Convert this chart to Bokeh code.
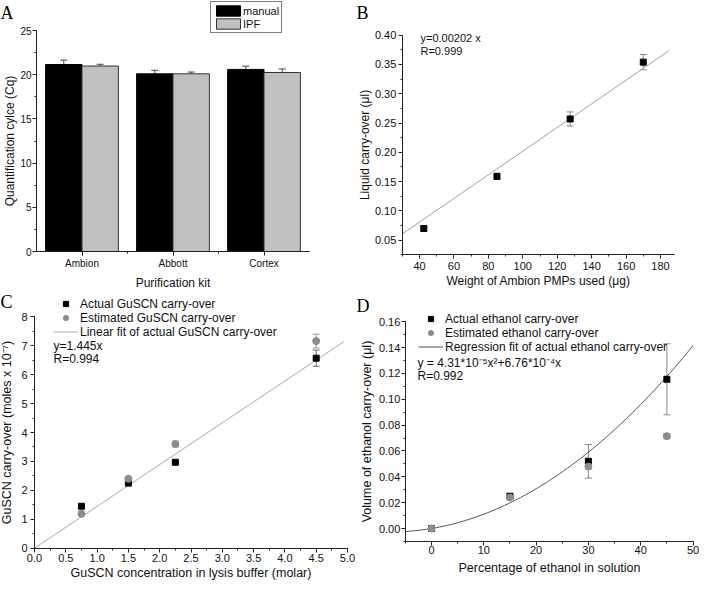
import numpy as np
from bokeh.plotting import figure
from bokeh.layouts import column, row
from bokeh.models import (ColumnDataSource, Whisker, TeeHead, Legend, LegendItem, Label,
                          SingleIntervalTicker, FixedTicker, PrintfTickFormatter, Range1d)
from bokeh.embed import file_html
from bokeh.resources import INLINE

FONT = "Liberation Sans"
SERIF = "Liberation Serif"

# ---------------- Panel A data ----------------
kits = ["Ambion", "Abbott", "Cortex"]
cq_manual = [21.15, 20.1, 20.6]
cq_manual_err = [0.5, 0.4, 0.37]
cq_ipf = [20.98, 20.1, 20.25]
cq_ipf_err = [0.2, 0.2, 0.4]

# ---------------- Panel B data ----------------
pmp_weight = [42.5, 85, 127.5, 170]
liquid_carry = [0.070, 0.159, 0.257, 0.354]
liquid_err = [0.004, 0.005, 0.012, 0.013]
b_slope = 0.00202
b_fit_x = [30, 185]

# ---------------- Panel C data ----------------
guscn_conc = [0.75, 1.5, 2.25, 4.5]
guscn_actual = [1.45, 2.25, 2.97, 6.57]
guscn_actual_err = [0.03, 0.03, 0.03, 0.28]
guscn_est = [1.19, 2.40, 3.60, 7.16]
guscn_est_err = [0.05, 0.05, 0.10, 0.24]
c_slope = 1.445
c_fit_x = [0, 4.95]

# ---------------- Panel D data ----------------
ethanol_pct = [0, 15, 30, 45]
eth_actual = [0.0, 0.025, 0.052, 0.1155]
eth_actual_err = [0.0005, 0.001, 0.013, 0.0275]
eth_est = [0.0, 0.024, 0.048, 0.0715]
eth_est_err = [0.0005, 0.001, 0.002, 0.002]
d_coef = [4.31e-5, 6.76e-4]
d_fit_range = [-5, 50]

AX = "#222222"
TXT = "#111111"


def pixel_range(a0, p0, a1, p1, size, vertical=False):
    """Range so that value a0 sits at pixel p0 and a1 at p1 (pixels from left/top)."""
    k = (a1 - a0) / (p1 - p0)
    at = lambda px: a0 + (px - p0) * k
    if vertical:
        return Range1d(at(size), at(0))
    return Range1d(at(0), at(size))


def make_fig(w, h, xr, yr):
    p = figure(width=w, height=h, x_range=xr, y_range=yr,
               output_backend="svg", toolbar_location=None,
               min_border=0, min_border_left=0, min_border_right=0,
               min_border_top=0, min_border_bottom=0)
    p.outline_line_color = None
    p.xgrid.grid_line_color = None
    p.ygrid.grid_line_color = None
    p.background_fill_color = "white"
    p.border_fill_color = "white"
    return p


def style_axes(p, tick_size, label_size, xloc, yloc, xb, yb,
               xstand=(2, 2), ystand=(2, 3)):
    p.xaxis.fixed_location = xloc
    p.yaxis.fixed_location = yloc
    p.xaxis.bounds = xb
    p.yaxis.bounds = yb
    for ax in p.axis:
        ax.axis_line_color = AX
        ax.major_tick_line_color = AX
        ax.minor_tick_line_color = AX
        ax.major_tick_in = 0
        ax.major_tick_out = 4
        ax.minor_tick_in = 0
        ax.minor_tick_out = 2
        ax.major_label_text_font = FONT
        ax.major_label_text_font_size = tick_size
        ax.major_label_text_color = TXT
        ax.axis_label_text_font = FONT
        ax.axis_label_text_font_style = "normal"
        ax.axis_label_text_font_size = label_size
        ax.axis_label_text_color = TXT
    p.xaxis.major_label_standoff = xstand[0]
    p.xaxis.axis_label_standoff = xstand[1]
    p.yaxis.major_label_standoff = ystand[0]
    p.yaxis.axis_label_standoff = ystand[1]


def panel_letter(p, letter, x, y):
    p.add_layout(Label(x=x, y=y, x_units="screen", y_units="screen", text=letter,
                       text_font=SERIF, text_font_size="18px", text_color="black",
                       text_baseline="alphabetic", text_align="left"))


def note(p, txt, x, y, size="12px"):
    p.add_layout(Label(x=x, y=y, x_units="screen", y_units="screen", text=txt,
                       text_font=FONT, text_font_size=size, text_color=TXT,
                       text_baseline="middle", text_align="left"))


def error_source(x, y, err):
    return ColumnDataSource(dict(x=x, y=y,
                                 lo=[v - e for v, e in zip(y, err)],
                                 up=[v + e for v, e in zip(y, err)]))


def add_whisker(p, src, col, lower="lo", both=True):
    p.add_layout(Whisker(source=src, base="x", lower=lower, upper="up", dimension="height",
                         line_color=col, line_width=1,
                         upper_head=TeeHead(size=7, line_color=col, line_width=1),
                         lower_head=TeeHead(size=7, line_color=col, line_width=1) if both else None))


# ================= Panel A =================
WA, HA = 356, 289
pa = make_fig(WA, HA, pixel_range(0.5, 36, 3.5, 309, WA),
              pixel_range(0, 251, 25, 30, HA, vertical=True))
kit_pos = [i + 1 for i in range(len(kits))]
src_man = error_source([k - 0.2 for k in kit_pos], cq_manual, cq_manual_err)
src_ipf = error_source([k + 0.2 for k in kit_pos], cq_ipf, cq_ipf_err)
for s in (src_man, src_ipf):
    add_whisker(pa, s, "#444444", lower="y", both=False)
r_man = pa.vbar(x="x", top="y", bottom=0, width=0.4, source=src_man,
                fill_color="black", line_color="black", line_width=1)
r_ipf = pa.vbar(x="x", top="y", bottom=0, width=0.4, source=src_ipf,
                fill_color="#c0c0c0", line_color="#333333", line_width=1)
pa.xaxis.ticker = FixedTicker(ticks=kit_pos, minor_ticks=[1.5, 2.5])
pa.xaxis.major_label_overrides = {k: n for k, n in zip(kit_pos, kits)}
pa.yaxis.ticker = SingleIntervalTicker(interval=5, num_minor_ticks=2)
pa.xaxis.axis_label = "Purification kit"
pa.yaxis.axis_label = "Quantification cylce (Cq)"
style_axes(pa, "10px", "12px", 0, 0.5, (0.5, 3.5), (0, 25), xstand=(2, 4), ystand=(1, 0))
leg_a = Legend(items=[LegendItem(label="manual", renderers=[r_man]),
                      LegendItem(label="IPF", renderers=[r_ipf])],
               location=(210, HA - 33), border_line_color="black", border_line_width=1,
               padding=2, spacing=0, margin=0, glyph_width=30, glyph_height=13,
               label_height=12, label_standoff=0, label_text_font=FONT,
               label_text_font_size="11px", label_text_color=TXT,
               background_fill_color="white", background_fill_alpha=1)
pa.add_layout(leg_a)
panel_letter(pa, "A", 0, HA - 12)

# ================= Panel B =================
WB, HB = 343, 289
pb = make_fig(WB, HB, pixel_range(40, 63, 180, 304, WB),
              pixel_range(0.05, 239.7, 0.40, 34.7, HB, vertical=True))
src_b = error_source(pmp_weight, liquid_carry, liquid_err)
add_whisker(pb, src_b, "#8a8a8a")
pb.line(b_fit_x, [b_slope * x for x in b_fit_x], line_color="#a0a0a0", line_width=1)
pb.scatter("x", "y", source=src_b, marker="square", size=6, fill_color="black",
           line_color="black")
pb.xaxis.ticker = SingleIntervalTicker(interval=20, num_minor_ticks=2)
pb.yaxis.ticker = SingleIntervalTicker(interval=0.05, num_minor_ticks=2)
pb.yaxis.formatter = PrintfTickFormatter(format="%.2f")
pb.xaxis.axis_label = "Weight of Ambion PMPs used (μg)"
pb.yaxis.axis_label = "Liquid carry-over (μl)"
style_axes(pb, "11px", "12px", 0.025, 30, (30, 188), (0.025, 0.40),
           xstand=(3, 1), ystand=(2, 0))
note(pb, "y=0.00202 x", 64, HB - 37, "11px")
note(pb, "R=0.999", 64, HB - 50, "11px")
panel_letter(pb, "B", 0, HB - 12)

# ================= Panel C =================
WC, HC = 356, 292
pc = make_fig(WC, HC, pixel_range(0, 34, 5, 347, WC),
              pixel_range(0, 258.7, 8, 27.3, HC, vertical=True))
src_ca = error_source(guscn_conc, guscn_actual, guscn_actual_err)
src_ce = error_source(guscn_conc, guscn_est, guscn_est_err)
add_whisker(pc, src_ca, "#6a6a6a")
add_whisker(pc, src_ce, "#9a9a9a")
r_cfit = pc.line(c_fit_x, [c_slope * x for x in c_fit_x], line_color="#a8a8a8", line_width=1)
r_ca = pc.scatter("x", "y", source=src_ca, marker="square", size=6,
                  fill_color="black", line_color="black")
r_ce = pc.scatter("x", "y", source=src_ce, marker="circle", size=7,
                  fill_color="#8c8c8c", line_color="#8c8c8c")
pc.xaxis.ticker = SingleIntervalTicker(interval=0.5, num_minor_ticks=2)
pc.yaxis.ticker = SingleIntervalTicker(interval=1, num_minor_ticks=2)
pc.xaxis.formatter = PrintfTickFormatter(format="%.1f")
pc.xaxis.axis_label = "GuSCN concentration in lysis buffer (molar)"
pc.yaxis.axis_label = "GuSCN carry-over (moles x 10⁻⁷)"
style_axes(pc, "11px", "12.5px", 0, 0, (0, 5), (0, 8), xstand=(2, 0), ystand=(3, 4))
leg_c = Legend(items=[LegendItem(label="Actual GuSCN carry-over", renderers=[r_ca]),
                      LegendItem(label="Estimated GuSCN carry-over", renderers=[r_ce]),
                      LegendItem(label="Linear fit of actual GuSCN carry-over", renderers=[r_cfit])],
               location=(53, HC - 49.75), border_line_color=None, padding=0, spacing=0,
               margin=0, glyph_width=25, glyph_height=13, label_height=13, label_standoff=2,
               label_text_font=FONT, label_text_font_size="12px", label_text_color=TXT,
               background_fill_alpha=0)
pc.add_layout(leg_c)
note(pc, "y=1.445x", 53, HC - 56)
note(pc, "R=0.994", 53, HC - 69)
panel_letter(pc, "C", 0, HC - 12)

# ================= Panel D =================
WD, HD = 343, 292
pd_ = make_fig(WD, HD, pixel_range(0, 75, 50, 336.5, WD),
               pixel_range(0, 239, 0.16, 32.3, HD, vertical=True))
src_da = error_source(ethanol_pct, eth_actual, eth_actual_err)
src_de = error_source(ethanol_pct, eth_est, eth_est_err)
add_whisker(pd_, src_da, "#8a8a8a")
add_whisker(pd_, src_de, "#9a9a9a")
fit_x = np.linspace(d_fit_range[0], d_fit_range[1], 111)
fit_y = d_coef[0] * fit_x ** 2 + d_coef[1] * fit_x
r_dfit = pd_.line(fit_x, fit_y, line_color="#555555", line_width=1)
r_da = pd_.scatter("x", "y", source=src_da, marker="square", size=6,
                   fill_color="black", line_color="black")
r_de = pd_.scatter("x", "y", source=src_de, marker="circle", size=7,
                   fill_color="#8c8c8c", line_color="#8c8c8c")
pd_.xaxis.ticker = SingleIntervalTicker(interval=10, num_minor_ticks=2)
pd_.yaxis.ticker = SingleIntervalTicker(interval=0.02, num_minor_ticks=2)
pd_.yaxis.formatter = PrintfTickFormatter(format="%.2f")
pd_.xaxis.axis_label = "Percentage of ethanol in solution"
pd_.yaxis.axis_label = "Volume of ethanol carry-over (μl)"
style_axes(pd_, "11px", "12.5px", -0.01, -5, (-5, 50), (-0.01, 0.16),
           xstand=(1, 3), ystand=(1, 2))
leg_d = Legend(items=[LegendItem(label="Actual ethanol carry-over", renderers=[r_da]),
                      LegendItem(label="Estimated ethanol carry-over", renderers=[r_de]),
                      LegendItem(label="Regression fit of actual ethanol carry-over", renderers=[r_dfit])],
               location=(62, HD - 64.5), border_line_color=None, padding=0, spacing=0,
               margin=0, glyph_width=25, glyph_height=13, label_height=13, label_standoff=2,
               label_text_font=FONT, label_text_font_size="12px", label_text_color=TXT,
               background_fill_alpha=0)
pd_.add_layout(leg_d)
note(pd_, "y = 4.31*10⁻⁵x²+6.76*10⁻⁴x", 61, HD - 73)
note(pd_, "R=0.992", 61, HD - 86)
panel_letter(pd_, "D", 0, HD - 16)

layout = column(row(pa, pb), row(pc, pd_))
open("out.html", "w").write(file_html(layout, INLINE))
